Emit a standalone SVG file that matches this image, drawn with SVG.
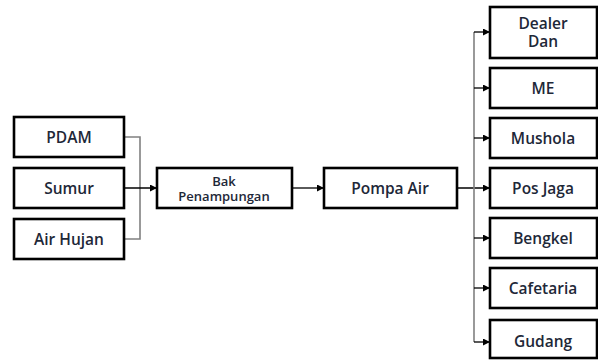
<svg xmlns="http://www.w3.org/2000/svg" width="598" height="360" viewBox="0 0 598 360">
  <defs>
    <marker id="arrow" viewBox="0 0 10 10" refX="10" refY="5" markerWidth="7" markerHeight="7" markerUnits="userSpaceOnUse" orient="auto">
      <path d="M0,0 L10,5 L0,10 z" fill="#000"/>
    </marker>
    <style>
      .box { fill: #fff; stroke: #000; stroke-width: 2.6; }
      .lbl { font-family: "Open Sans", "Liberation Sans", sans-serif; font-weight: 600; font-size: 15.5px; fill: #1e2838; text-anchor: middle; dominant-baseline: central; }
      .sm { font-size: 13px; }
      .trunk { fill: none; stroke: #808080; stroke-width: 1.6; }
      .link { fill: none; stroke: #000; stroke-width: 1.3; marker-end: url(#arrow); }
    </style>
  </defs>
  <rect width="598" height="360" fill="#fff"/>

  <!-- connectors -->
  <g id="connectors">
    <path class="trunk" d="M124,137 H140 V239 H124"/>
    <path class="link" d="M124,188 H157"/>
    <path class="link" d="M292,188 H324"/>
    <path class="link" d="M457,188 H490"/>
    <path class="trunk" d="M474,32 V342"/>
    <path class="link" d="M474,32 H490"/>
    <path class="link" d="M474,88 H490"/>
    <path class="link" d="M474,138 H490"/>
    <path class="link" d="M474,238 H490"/>
    <path class="link" d="M474,288 H490"/>
    <path class="link" d="M474,342 H490"/>
  </g>

  <!-- water sources -->
  <g id="pdam">
    <rect class="box" x="14" y="117" width="110" height="40"/>
    <text class="lbl" x="69" y="137">PDAM</text>
  </g>
  <g id="sumur">
    <rect class="box" x="14" y="168" width="110" height="40"/>
    <text class="lbl" x="69" y="188">Sumur</text>
  </g>
  <g id="air-hujan">
    <rect class="box" x="14" y="219" width="110" height="40"/>
    <text class="lbl" x="69" y="239">Air Hujan</text>
  </g>

  <!-- storage and pump -->
  <g id="bak-penampungan">
    <rect class="box" x="157" y="168" width="135" height="40"/>
    <text class="lbl sm" x="224" y="181">Bak</text>
    <text class="lbl sm" x="224" y="196">Penampungan</text>
  </g>
  <g id="pompa-air">
    <rect class="box" x="324" y="168" width="133" height="40"/>
    <text class="lbl" x="390" y="188">Pompa Air</text>
  </g>

  <!-- consumers -->
  <g id="dealer-dan">
    <rect class="box" x="490" y="7" width="107" height="51"/>
    <text class="lbl" x="543" y="23">Dealer</text>
    <text class="lbl" x="543" y="41">Dan</text>
  </g>
  <g id="me">
    <rect class="box" x="490" y="68" width="107" height="40"/>
    <text class="lbl" x="543" y="88">ME</text>
  </g>
  <g id="mushola">
    <rect class="box" x="490" y="118" width="107" height="40"/>
    <text class="lbl" x="543" y="138">Mushola</text>
  </g>
  <g id="pos-jaga">
    <rect class="box" x="490" y="168" width="107" height="40"/>
    <text class="lbl" x="543" y="188">Pos Jaga</text>
  </g>
  <g id="bengkel">
    <rect class="box" x="490" y="218" width="107" height="40"/>
    <text class="lbl" x="543" y="238">Bengkel</text>
  </g>
  <g id="cafetaria">
    <rect class="box" x="490" y="268" width="107" height="40"/>
    <text class="lbl" x="543" y="288">Cafetaria</text>
  </g>
  <g id="gudang">
    <rect class="box" x="490" y="320" width="107" height="38"/>
    <text class="lbl" x="543" y="341">Gudang</text>
  </g>
</svg>
